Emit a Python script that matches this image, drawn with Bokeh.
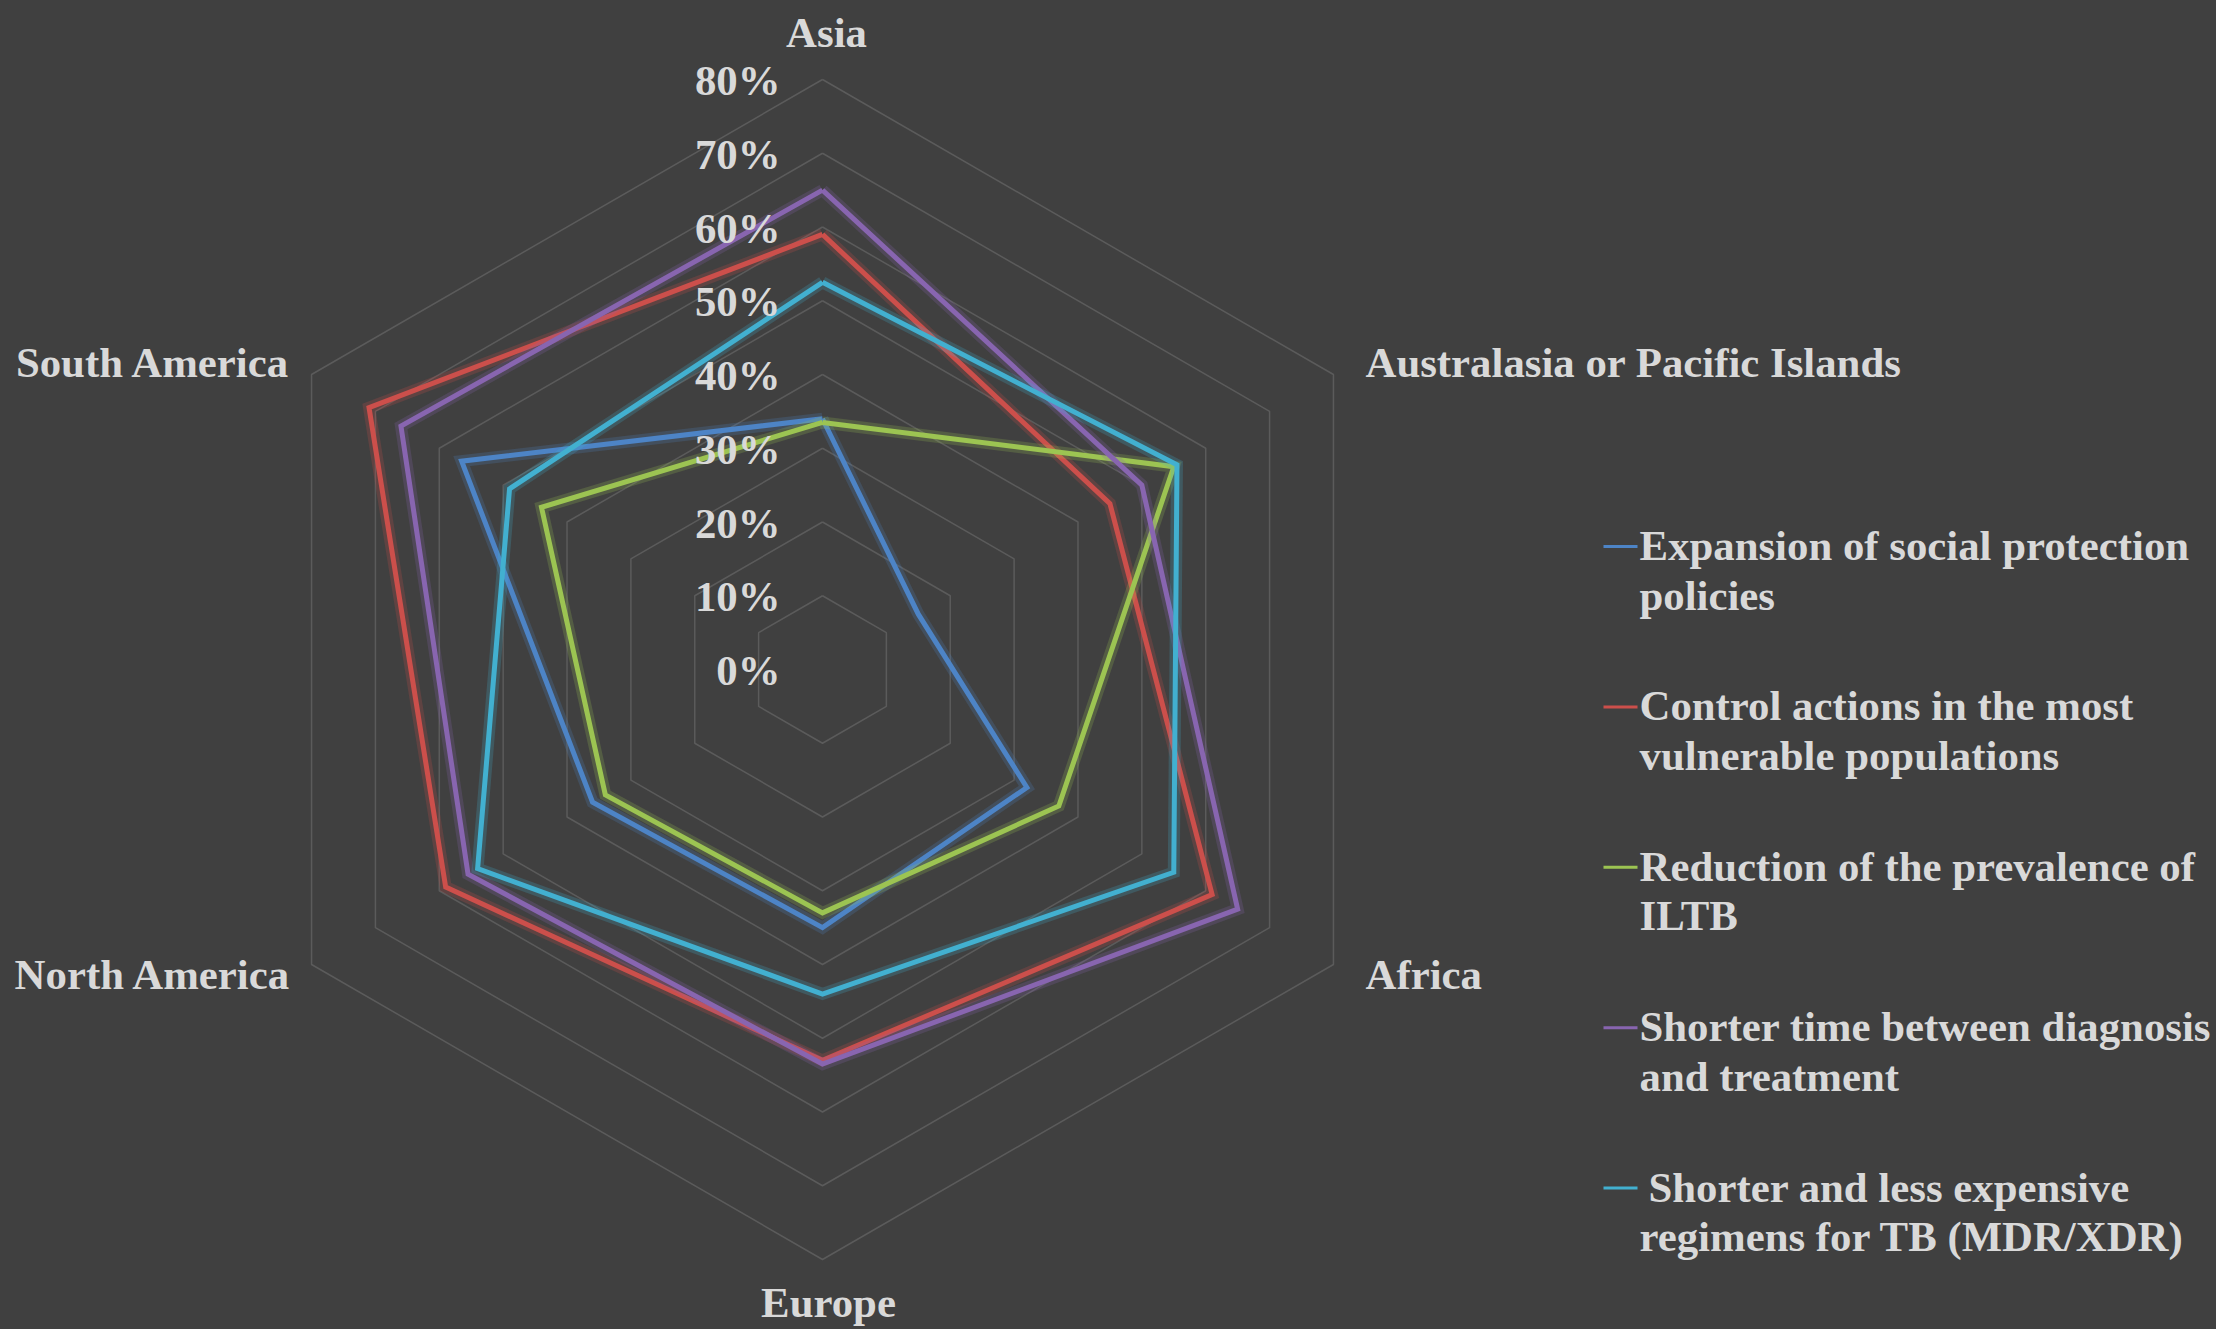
import math
from bokeh.plotting import figure
from bokeh.models import Range1d
from bokeh.core.properties import value
from bokeh.embed import file_html
from bokeh.resources import INLINE

# ---------------- data ----------------
categories = ["Asia", "Australasia or Pacific Islands", "Africa", "Europe",
              "North America", "South America"]
series_names = [
    ["Expansion of social protection", "policies"],
    ["Control actions in the most", "vulnerable populations"],
    ["Reduction of the prevalence of", "ILTB"],
    ["Shorter time between diagnosis", "and  treatment"],
    [" Shorter and less expensive", "regimens for TB (MDR/XDR)"],
]
expansion_social = [34, 15, 32, 35, 36, 56.5]
control_vulnerable = [59, 45, 61, 53, 59, 71]
reduction_iltb = [33.5, 55, 37, 33, 34, 44]
shorter_time = [65, 50, 65, 53.5, 55.5, 66]
shorter_regimens = [52.5, 55.5, 55, 44, 54, 49]
tick_values = [0, 10, 20, 30, 40, 50, 60, 70, 80]
tick_labels = ["0%", "10%", "20%", "30%", "40%", "50%", "60%", "70%", "80%"]

series_values = [expansion_social, control_vulnerable, reduction_iltb,
                 shorter_time, shorter_regimens]
series_colors = ["#4d84c6", "#cc4f4b", "#9cc452", "#8865b0", "#42b0d0"]

# ---------------- layout ----------------
W, H = 2216, 1329
S = 7.375            # pixels per percent
CXP, CYP = 822, 669  # canvas position of the radar centre
TDY = -14            # baseline correction for text rendering

BG = "#404040"
TXT = "#d9d9d9"
FONT = value("Liberation Serif")
FSIZE = value("42.8px")


def p2d(px, py):
    return (px - CXP) / S, (CYP - py) / S


x0 = -CXP / S
x1 = (W - CXP) / S
y1 = CYP / S
y0 = -(H - CYP) / S

p = figure(width=W, height=H, x_range=Range1d(x0, x1), y_range=Range1d(y0, y1),
           x_axis_type=None, y_axis_type=None, output_backend="svg",
           toolbar_location=None, min_border=0,
           background_fill_color=BG, border_fill_color=BG, outline_line_color=None)
p.grid.visible = False

n = len(categories)
angles = [math.radians(90 - 360.0 * i / n) for i in range(n)]

# grid rings
ring_xs, ring_ys = [], []
for t in tick_values[1:]:
    ring_xs.append([t * math.cos(a) for a in angles] + [t * math.cos(angles[0])])
    ring_ys.append([t * math.sin(a) for a in angles] + [t * math.sin(angles[0])])
p.multi_line(ring_xs, ring_ys, line_color="#5b5b5b", line_width=1.5)

# series
for vals, col in zip(series_values, series_colors):
    xs = [v * math.cos(a) for v, a in zip(vals, angles)]
    ys = [v * math.sin(a) for v, a in zip(vals, angles)]
    xs.append(xs[0]); ys.append(ys[0])
    p.line(xs, ys, line_color=col, line_width=12, line_alpha=0.22, line_join="miter")
    p.line(xs, ys, line_color=col, line_width=5, line_join="miter")

# radial tick labels
p.text(x=[0] * len(tick_values), y=tick_values, text=tick_labels,
       x_offset=-42, y_offset=15 + TDY, text_align="right", text_baseline="alphabetic",
       text_font=FONT, text_font_size=FSIZE, text_font_style="bold", text_color=TXT)

# category labels (visual baseline positions of the labels)
cat_pos = [(826, 46, "center"), (1365, 376, "left"), (1365, 988, "left"),
           (828, 1316, "center"), (291, 988, "right"), (290, 376, "right")]
for name, (px, py, al) in zip(categories, cat_pos):
    dx, dy = p2d(px, py + TDY)
    p.text(x=[dx], y=[dy], text=[name], text_align=al, text_baseline="alphabetic",
           text_font=FONT, text_font_size=FSIZE, text_font_style="bold", text_color=TXT)

# legend
for i, (lines, col) in enumerate(zip(series_names, series_colors)):
    base = 559 + 160.4 * i
    lx0, ly = p2d(1603, base - 13)
    lx1, _ = p2d(1637, base - 13)
    p.segment(x0=[lx0], y0=[ly], x1=[lx1], y1=[ly], line_color=col, line_width=3)
    for j, line in enumerate(lines):
        extra = 9 if line.startswith(" ") else 0
        tx, ty = p2d(1639 + extra, base + 49.5 * j + TDY)
        p.text(x=[tx], y=[ty], text=[line], text_align="left", text_baseline="alphabetic",
               text_font=FONT, text_font_size=FSIZE, text_font_style="bold", text_color=TXT)

html = file_html(p, INLINE)
html = html.replace("<body>", '<body style="background-color:%s;">' % BG)
open("out.html", "w").write(html)
